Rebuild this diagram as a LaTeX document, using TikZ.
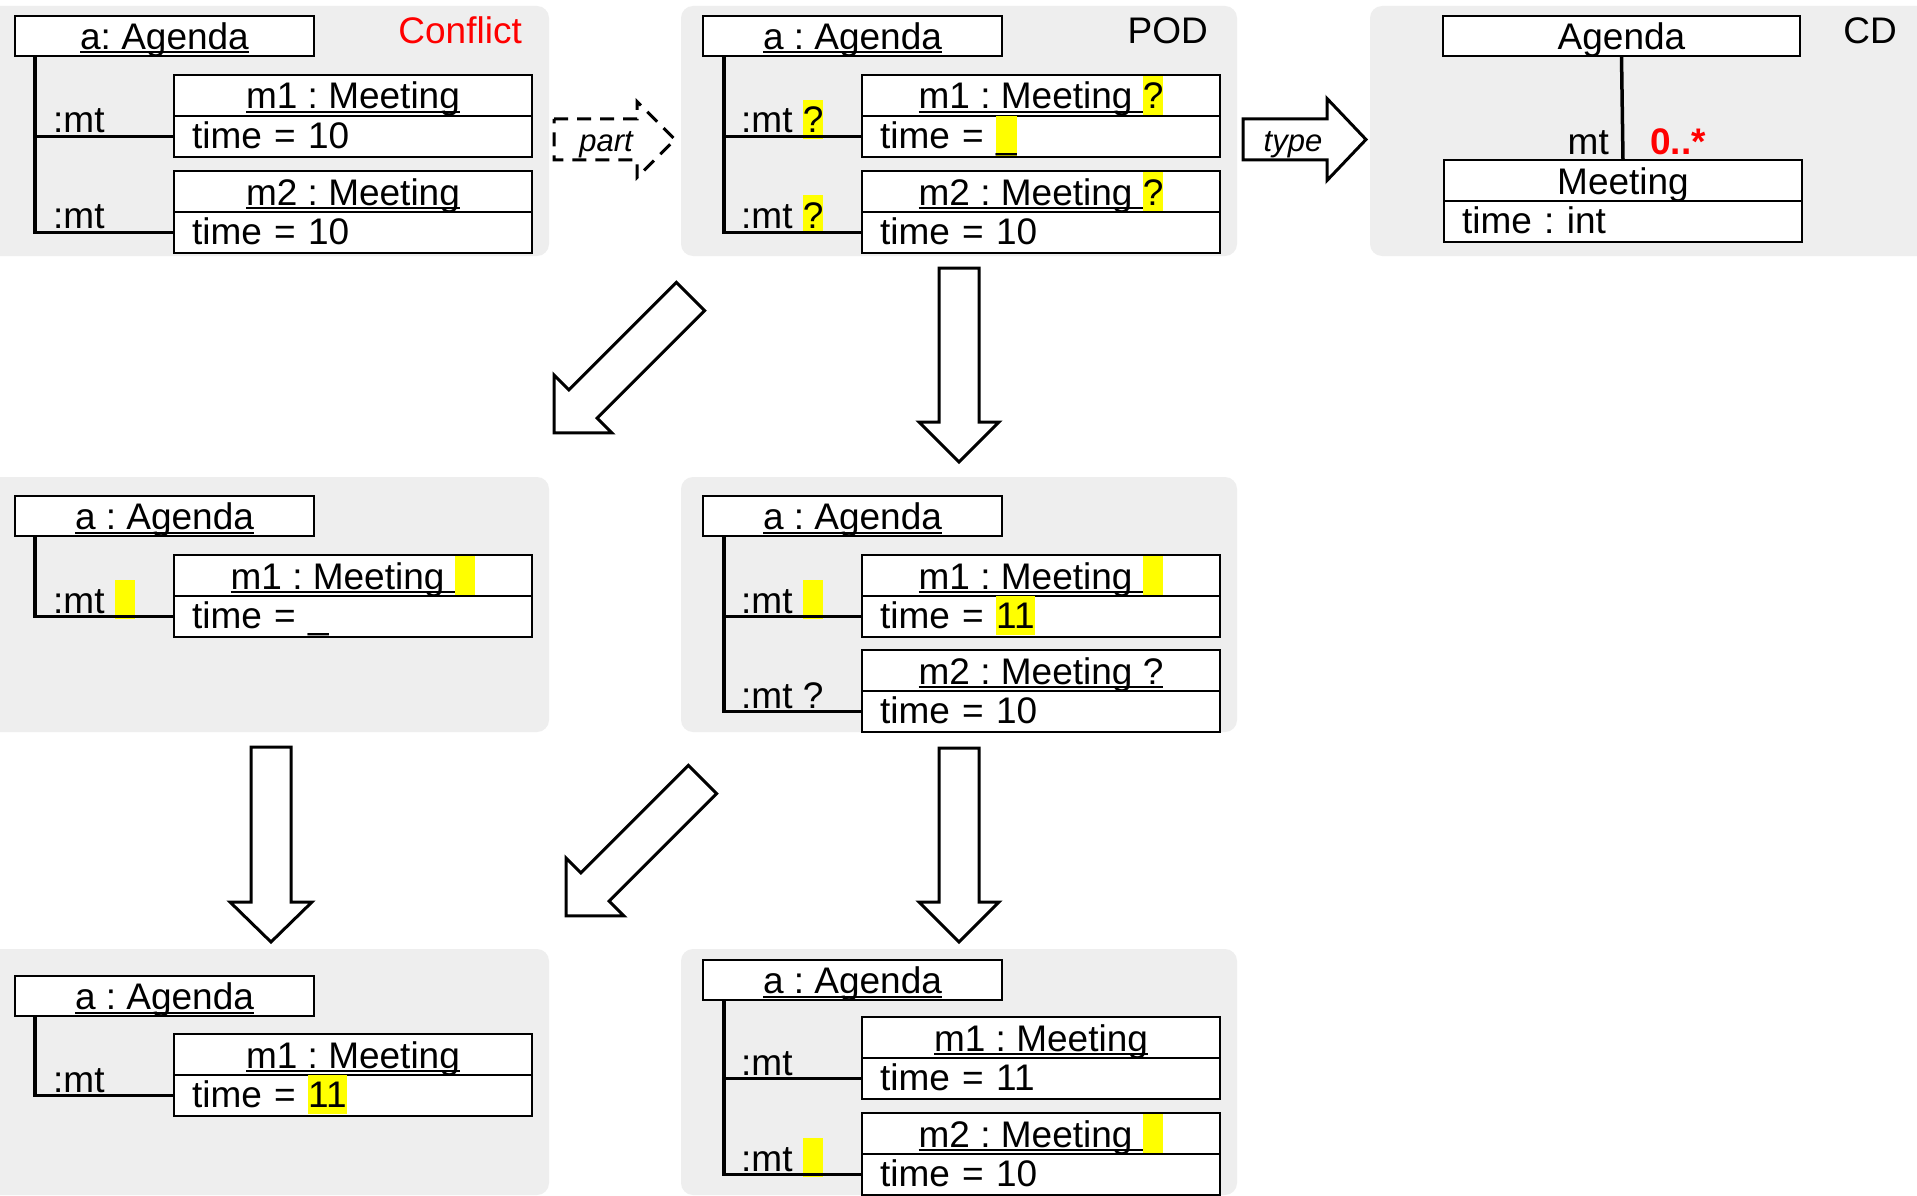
\documentclass[tikz,border=0pt]{standalone}
\usepackage{fontspec}
\setmainfont{Liberation Sans}
\usetikzlibrary{calc}
\frenchspacing
\definecolor{panelbg}{HTML}{EEEEEE}
\definecolor{hlyellow}{HTML}{FFFF00}
\definecolor{conflictred}{HTML}{FF0000}
\newsavebox\ulbox
\newcommand\ulx[1]{\sbox\ulbox{#1}\rlap{\rule[-4pt]{\wd\ulbox}{2pt}}\usebox\ulbox}
\newcommand\hl[1]{{\setlength\fboxsep{0pt}\colorbox{hlyellow}{\rule[-6pt]{0pt}{39pt}#1}}}
\newcommand\hlb{\hl{\phantom{?}}}
\newcommand\meeting[5]{%
  \node[titlebox] (#1t) at (#2,#3) {#4};
  \node[attrbox] (#1a) at (#1t.south west) {#5};}
\newcommand\blockarrow[8]{%
  \begin{scope}[shift={(#2,#3)}, rotate=#4]
    \draw[#1] (0,-#6) -- (#5-#8,-#6) -- (#5-#8,-#7) -- (#5,0) -- (#5-#8,#7) -- (#5-#8,#6) -- (0,#6) -- cycle;
  \end{scope}}
\begin{document}
\begin{tikzpicture}[x=1pt,y=-1pt,
  every node/.style={font=\fontsize{37}{44}\selectfont, inner sep=0pt},
  panel/.style={fill=panelbg, rounded corners=12pt},
  objbox/.style={draw, line width=2pt, fill=white, text height=27pt, text depth=0pt, inner sep=0pt, outer sep=0pt, anchor=north west},
  titlebox/.style={objbox, minimum width=358pt, minimum height=41pt},
  attrbox/.style={objbox, minimum width=358pt, minimum height=41pt, text width=322pt, align=left, text height=24pt},
  agendabox/.style={objbox, minimum width=299pt, minimum height=40pt},
  link/.style={line width=3.5pt},
  lbl/.style={anchor=base west},
  bigarrow/.style={draw, line width=3pt, fill=white, line join=miter},
  dasharrow/.style={draw, line width=3pt, fill=white, dash pattern=on 14pt off 9pt},
  arrowlbl/.style={font=\fontsize{31}{36}\selectfont\itshape}]
\useasboundingbox (0,0) rectangle (1917,1196);
\fill[white] (0,0) rectangle (1917,1196);

% ---------- panels ----------
\fill[panel] (-20,6) rectangle (549,256);
\fill[panel] (681,6) rectangle (1237,256);
\fill[panel] (1370,6) rectangle (1940,256);
\fill[panel] (-20,477) rectangle (549,732);
\fill[panel] (681,477) rectangle (1237,732);
\fill[panel] (-20,949) rectangle (549,1195);
\fill[panel] (681,949) rectangle (1237,1195);

% ---------- Panel 1: Conflict ----------
\node[agendabox] (p1ag) at (15,16) {\ulx{a: Agenda}};
\node[anchor=base east, text=conflictred] (p1name) at (522,44) {Conflict};
\meeting{p1m1}{174}{75}{\ulx{m1 : Meeting}}{time = 10}
\meeting{p1m2}{174}{171}{\ulx{m2 : Meeting}}{time = 10}
\node[lbl] (p1l1) at (53,133) {:mt};
\node[lbl] (p1l2) at (53,228) {:mt};
\coordinate (p1v) at ([xshift=20pt]p1ag.south west);
\draw[link] (p1v) |- (p1m2a.west);
\draw[link] (p1v |- p1m1a.west) -- (p1m1a.west);

% ---------- Panel 2: POD ----------
\node[agendabox] (p2ag) at (703,16) {\ulx{a : Agenda}};
\node[anchor=base east] (p2name) at (1208,44) {POD};
\meeting{p2m1}{862}{75}{\ulx{m1 : Meeting \hl{?}}}{time = \hl{\_}}
\meeting{p2m2}{862}{171}{\ulx{m2 : Meeting \hl{?}}}{time = 10}
\node[lbl] (p2l1) at (741,133) {:mt \hl{?}};
\node[lbl] (p2l2) at (741,228) {:mt \hl{?}};
\coordinate (p2v) at ([xshift=21pt]p2ag.south west);
\draw[link] (p2v) |- (p2m2a.west);
\draw[link] (p2v |- p2m1a.west) -- (p2m1a.west);

% ---------- Panel 3: CD ----------
\node[objbox, minimum width=357pt, minimum height=40pt] (cdag) at (1443,16) {Agenda};
\node[anchor=base east] (cdname) at (1897,44) {CD};
\meeting{cdm}{1444}{160}{Meeting}{time : int}
\draw[link] (cdag.south) -- (cdmt.north);
\node[anchor=base east] (cdrole) at (1609,155) {mt};
\node[anchor=base west, text=conflictred, font=\fontsize{37}{44}\selectfont\bfseries] (cdmult) at (1650,155) {0..*};

% ---------- Panel 4: row 2 left ----------
\node[agendabox] (p4ag) at (15,496) {\ulx{a : Agenda}};
\meeting{p4m1}{174}{555}{\ulx{m1 : Meeting \hlb}}{time = \_}
\node[lbl] (p4l1) at (53,613) {:mt \hlb};
\coordinate (p4v) at ([xshift=20pt]p4ag.south west);
\draw[link] (p4v) |- (p4m1a.west);

% ---------- Panel 5: row 2 middle ----------
\node[agendabox] (p5ag) at (703,496) {\ulx{a : Agenda}};
\meeting{p5m1}{862}{555}{\ulx{m1 : Meeting \hlb}}{time = \hl{11}}
\meeting{p5m2}{862}{650}{\ulx{m2 : Meeting ?}}{time = 10}
\node[lbl] (p5l1) at (741,613) {:mt \hlb};
\node[lbl] (p5l2) at (741,708) {:mt ?};
\coordinate (p5v) at ([xshift=21pt]p5ag.south west);
\draw[link] (p5v) |- (p5m2a.west);
\draw[link] (p5v |- p5m1a.west) -- (p5m1a.west);

% ---------- Panel 6: row 3 left ----------
\node[agendabox] (p6ag) at (15,976) {\ulx{a : Agenda}};
\meeting{p6m1}{174}{1034}{\ulx{m1 : Meeting}}{time = \hl{11}}
\node[lbl] (p6l1) at (53,1092) {:mt};
\coordinate (p6v) at ([xshift=20pt]p6ag.south west);
\draw[link] (p6v) |- (p6m1a.west);

% ---------- Panel 7: row 3 middle ----------
\node[agendabox] (p7ag) at (703,960) {\ulx{a : Agenda}};
\meeting{p7m1}{862}{1017}{\ulx{m1 : Meeting}}{time = 11}
\meeting{p7m2}{862}{1113}{\ulx{m2 : Meeting \hlb}}{time = 10}
\node[lbl] (p7l1) at (741,1075) {:mt};
\node[lbl] (p7l2) at (741,1171) {:mt \hlb};
\coordinate (p7v) at ([xshift=21pt]p7ag.south west);
\draw[link] (p7v) |- (p7m2a.west);
\draw[link] (p7v |- p7m1a.west) -- (p7m1a.west);

% ---------- arrows ----------
\blockarrow{dasharrow}{554}{139.5}{0}{121}{20.5}{38}{38}
\node[arrowlbl] (partlbl) at (606,145) {part};
\blockarrow{bigarrow}{1243}{139.5}{0}{123}{20.5}{41}{39}
\node[arrowlbl] (typelbl) at (1293,145) {type};

\blockarrow{bigarrow}{690.5}{296.5}{225}{193}{20}{41}{41}
\blockarrow{bigarrow}{959}{268}{270}{194}{20}{40}{40}
\blockarrow{bigarrow}{702.5}{779.5}{225}{193}{20}{41}{41}
\blockarrow{bigarrow}{271}{747}{270}{195}{20}{41}{40}
\blockarrow{bigarrow}{959}{748}{270}{194}{20}{40}{40}
\end{tikzpicture}
\end{document}
